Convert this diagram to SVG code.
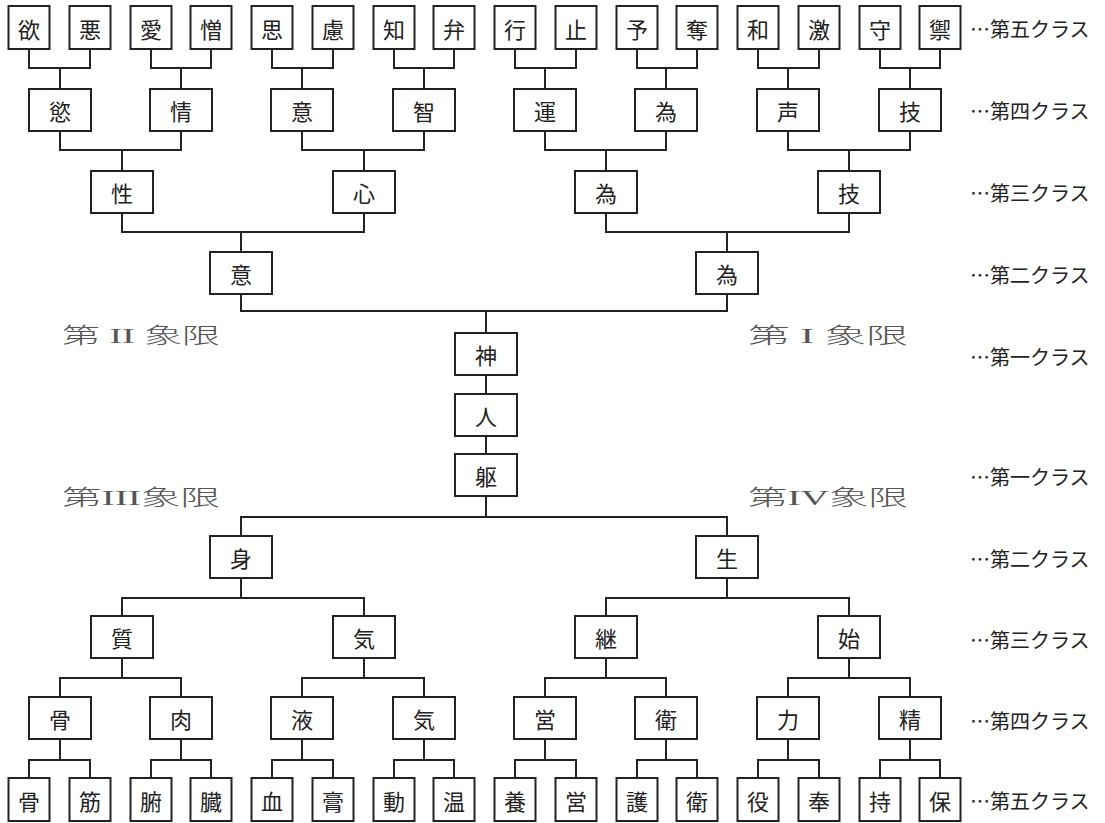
<svg xmlns="http://www.w3.org/2000/svg" width="1105" height="823" viewBox="0 0 1105 823">
<style>
.b{fill:#fff;stroke:#222;stroke-width:2}
.t{font-family:"Noto Sans CJK JP","Noto Sans CJK SC",sans-serif;font-size:22px;text-anchor:middle;dominant-baseline:central;fill:#222}
.c{fill:none;stroke:#222;stroke-width:2}
.l{font-family:"Noto Sans CJK JP",sans-serif;font-size:20px;fill:#222;dominant-baseline:central}
.q{font-family:"Liberation Serif","Noto Sans CJK JP",serif;font-size:22px;font-weight:300;fill:#555;dominant-baseline:central}
</style>
<rect width="1105" height="823" fill="#fff"/>
<g id="connectors" class="c">
<path d="M29,49V68H90V49M60,68V89"/>
<path d="M151,49V68H211V49M181,68V89"/>
<path d="M272,49V68H333V49M302,68V89"/>
<path d="M394,49V68H454V49M424,68V89"/>
<path d="M515,49V68H576V49M545,68V89"/>
<path d="M637,49V68H697V49M666,68V89"/>
<path d="M758,49V68H819V49M788,68V89"/>
<path d="M880,49V68H940V49M910,68V89"/>
<path d="M60,131V150H181V131M122,150V171"/>
<path d="M302,131V150H424V131M364,150V171"/>
<path d="M545,131V150H666V131M606,150V171"/>
<path d="M788,131V150H910V131M849,150V171"/>
<path d="M122,213V232H364V213M241,232V252"/>
<path d="M606,213V232H849V213M727,232V252"/>
<path d="M241,294V311H727V294M486,311V333"/>
<path d="M486,375V394M486,436V454"/>
<path d="M486,496V517M241,536V517H727V536"/>
<path d="M241,578V598M122,616V598H364V616"/>
<path d="M727,578V598M606,616V598H849V616"/>
<path d="M122,658V678M60,697V678H181V697"/>
<path d="M364,658V678M302,697V678H424V697"/>
<path d="M606,658V678M545,697V678H666V697"/>
<path d="M849,658V678M788,697V678H910V697"/>
<path d="M60,739V760M29,778V760H90V778"/>
<path d="M181,739V760M151,778V760H211V778"/>
<path d="M302,739V760M272,778V760H333V778"/>
<path d="M424,739V760M394,778V760H454V778"/>
<path d="M545,739V760M515,778V760H576V778"/>
<path d="M666,739V760M637,778V760H697V778"/>
<path d="M788,739V760M758,778V760H819V778"/>
<path d="M910,739V760M880,778V760H940V778"/>
</g>
<!-- upper fifth class -->
<g id="u5-1"><rect class="b" x="8.5" y="6" width="41" height="43"/><text class="t" x="29" y="28">欲</text></g>
<g id="u5-2"><rect class="b" x="69.5" y="6" width="41" height="43"/><text class="t" x="90" y="28">悪</text></g>
<g id="u5-3"><rect class="b" x="130.5" y="6" width="41" height="43"/><text class="t" x="151" y="28">愛</text></g>
<g id="u5-4"><rect class="b" x="190.5" y="6" width="41" height="43"/><text class="t" x="211" y="28">憎</text></g>
<g id="u5-5"><rect class="b" x="251.5" y="6" width="41" height="43"/><text class="t" x="272" y="28">思</text></g>
<g id="u5-6"><rect class="b" x="312.5" y="6" width="41" height="43"/><text class="t" x="333" y="28">慮</text></g>
<g id="u5-7"><rect class="b" x="373.5" y="6" width="41" height="43"/><text class="t" x="394" y="28">知</text></g>
<g id="u5-8"><rect class="b" x="433.5" y="6" width="41" height="43"/><text class="t" x="454" y="28">弁</text></g>
<g id="u5-9"><rect class="b" x="494.5" y="6" width="41" height="43"/><text class="t" x="515" y="28">行</text></g>
<g id="u5-10"><rect class="b" x="555.5" y="6" width="41" height="43"/><text class="t" x="576" y="28">止</text></g>
<g id="u5-11"><rect class="b" x="616.5" y="6" width="41" height="43"/><text class="t" x="637" y="28">予</text></g>
<g id="u5-12"><rect class="b" x="676.5" y="6" width="41" height="43"/><text class="t" x="697" y="28">奪</text></g>
<g id="u5-13"><rect class="b" x="737.5" y="6" width="41" height="43"/><text class="t" x="758" y="28">和</text></g>
<g id="u5-14"><rect class="b" x="798.5" y="6" width="41" height="43"/><text class="t" x="819" y="28">激</text></g>
<g id="u5-15"><rect class="b" x="859.5" y="6" width="41" height="43"/><text class="t" x="880" y="28">守</text></g>
<g id="u5-16"><rect class="b" x="919.5" y="6" width="41" height="43"/><text class="t" x="940" y="28">禦</text></g>
<!-- upper fourth class -->
<g id="u4-1"><rect class="b" x="29" y="89" width="62" height="42"/><text class="t" x="60" y="110">慾</text></g>
<g id="u4-2"><rect class="b" x="150" y="89" width="62" height="42"/><text class="t" x="181" y="110">情</text></g>
<g id="u4-3"><rect class="b" x="271" y="89" width="62" height="42"/><text class="t" x="302" y="110">意</text></g>
<g id="u4-4"><rect class="b" x="393" y="89" width="62" height="42"/><text class="t" x="424" y="110">智</text></g>
<g id="u4-5"><rect class="b" x="514" y="89" width="62" height="42"/><text class="t" x="545" y="110">運</text></g>
<g id="u4-6"><rect class="b" x="635" y="89" width="62" height="42"/><text class="t" x="666" y="110">為</text></g>
<g id="u4-7"><rect class="b" x="757" y="89" width="62" height="42"/><text class="t" x="788" y="110">声</text></g>
<g id="u4-8"><rect class="b" x="879" y="89" width="62" height="42"/><text class="t" x="910" y="110">技</text></g>
<!-- upper third class -->
<g id="u3-1"><rect class="b" x="91" y="171" width="62" height="42"/><text class="t" x="122" y="192">性</text></g>
<g id="u3-2"><rect class="b" x="333" y="171" width="62" height="42"/><text class="t" x="364" y="192">心</text></g>
<g id="u3-3"><rect class="b" x="575" y="171" width="62" height="42"/><text class="t" x="606" y="192">為</text></g>
<g id="u3-4"><rect class="b" x="818" y="171" width="62" height="42"/><text class="t" x="849" y="192">技</text></g>
<!-- upper second class -->
<g id="u2-1"><rect class="b" x="210" y="252" width="62" height="42"/><text class="t" x="241" y="273">意</text></g>
<g id="u2-2"><rect class="b" x="696" y="252" width="62" height="42"/><text class="t" x="727" y="273">為</text></g>
<!-- first class -->
<g id="c-shin"><rect class="b" x="455" y="333" width="62" height="42"/><text class="t" x="486" y="354">神</text></g>
<g id="c-hito"><rect class="b" x="455" y="394" width="62" height="42"/><text class="t" x="486" y="415">人</text></g>
<g id="c-ku"><rect class="b" x="455" y="454" width="62" height="42"/><text class="t" x="486" y="475">躯</text></g>
<!-- lower second class -->
<g id="l2-1"><rect class="b" x="210" y="536" width="62" height="42"/><text class="t" x="241" y="557">身</text></g>
<g id="l2-2"><rect class="b" x="696" y="536" width="62" height="42"/><text class="t" x="727" y="557">生</text></g>
<!-- lower third class -->
<g id="l3-1"><rect class="b" x="91" y="616" width="62" height="42"/><text class="t" x="122" y="637">質</text></g>
<g id="l3-2"><rect class="b" x="333" y="616" width="62" height="42"/><text class="t" x="364" y="637">気</text></g>
<g id="l3-3"><rect class="b" x="575" y="616" width="62" height="42"/><text class="t" x="606" y="637">継</text></g>
<g id="l3-4"><rect class="b" x="818" y="616" width="62" height="42"/><text class="t" x="849" y="637">始</text></g>
<!-- lower fourth class -->
<g id="l4-1"><rect class="b" x="29" y="697" width="62" height="42"/><text class="t" x="60" y="718">骨</text></g>
<g id="l4-2"><rect class="b" x="150" y="697" width="62" height="42"/><text class="t" x="181" y="718">肉</text></g>
<g id="l4-3"><rect class="b" x="271" y="697" width="62" height="42"/><text class="t" x="302" y="718">液</text></g>
<g id="l4-4"><rect class="b" x="393" y="697" width="62" height="42"/><text class="t" x="424" y="718">気</text></g>
<g id="l4-5"><rect class="b" x="514" y="697" width="62" height="42"/><text class="t" x="545" y="718">営</text></g>
<g id="l4-6"><rect class="b" x="635" y="697" width="62" height="42"/><text class="t" x="666" y="718">衛</text></g>
<g id="l4-7"><rect class="b" x="757" y="697" width="62" height="42"/><text class="t" x="788" y="718">力</text></g>
<g id="l4-8"><rect class="b" x="879" y="697" width="62" height="42"/><text class="t" x="910" y="718">精</text></g>
<!-- lower fifth class -->
<g id="l5-1"><rect class="b" x="8.5" y="778" width="41" height="43"/><text class="t" x="29" y="800">骨</text></g>
<g id="l5-2"><rect class="b" x="69.5" y="778" width="41" height="43"/><text class="t" x="90" y="800">筋</text></g>
<g id="l5-3"><rect class="b" x="130.5" y="778" width="41" height="43"/><text class="t" x="151" y="800">腑</text></g>
<g id="l5-4"><rect class="b" x="190.5" y="778" width="41" height="43"/><text class="t" x="211" y="800">臓</text></g>
<g id="l5-5"><rect class="b" x="251.5" y="778" width="41" height="43"/><text class="t" x="272" y="800">血</text></g>
<g id="l5-6"><rect class="b" x="312.5" y="778" width="41" height="43"/><text class="t" x="333" y="800">膏</text></g>
<g id="l5-7"><rect class="b" x="373.5" y="778" width="41" height="43"/><text class="t" x="394" y="800">動</text></g>
<g id="l5-8"><rect class="b" x="433.5" y="778" width="41" height="43"/><text class="t" x="454" y="800">温</text></g>
<g id="l5-9"><rect class="b" x="494.5" y="778" width="41" height="43"/><text class="t" x="515" y="800">養</text></g>
<g id="l5-10"><rect class="b" x="555.5" y="778" width="41" height="43"/><text class="t" x="576" y="800">営</text></g>
<g id="l5-11"><rect class="b" x="616.5" y="778" width="41" height="43"/><text class="t" x="637" y="800">護</text></g>
<g id="l5-12"><rect class="b" x="676.5" y="778" width="41" height="43"/><text class="t" x="697" y="800">衛</text></g>
<g id="l5-13"><rect class="b" x="737.5" y="778" width="41" height="43"/><text class="t" x="758" y="800">役</text></g>
<g id="l5-14"><rect class="b" x="798.5" y="778" width="41" height="43"/><text class="t" x="819" y="800">奉</text></g>
<g id="l5-15"><rect class="b" x="859.5" y="778" width="41" height="43"/><text class="t" x="880" y="800">持</text></g>
<g id="l5-16"><rect class="b" x="919.5" y="778" width="41" height="43"/><text class="t" x="940" y="800">保</text></g>
<!-- class labels -->
<g id="class-labels">
<text class="l" x="970" y="28">…第五クラス</text>
<text class="l" x="970" y="110">…第四クラス</text>
<text class="l" x="970" y="192">…第三クラス</text>
<text class="l" x="970" y="274">…第二クラス</text>
<text class="l" x="970" y="356">…第一クラス</text>
<text class="l" x="970" y="476">…第一クラス</text>
<text class="l" x="970" y="558">…第二クラス</text>
<text class="l" x="970" y="639">…第三クラス</text>
<text class="l" x="970" y="720">…第四クラス</text>
<text class="l" x="970" y="800">…第五クラス</text>
</g>
<!-- quadrant labels -->
<g id="quadrants">
<text class="q" x="62" y="335" textLength="158" lengthAdjust="spacingAndGlyphs">第 II 象限</text>
<text class="q" x="748" y="335" textLength="160" lengthAdjust="spacingAndGlyphs">第 I 象限</text>
<text class="q" x="62" y="497" textLength="158" lengthAdjust="spacingAndGlyphs">第III象限</text>
<text class="q" x="748" y="497" textLength="160" lengthAdjust="spacingAndGlyphs">第IV象限</text>
</g>
</svg>
